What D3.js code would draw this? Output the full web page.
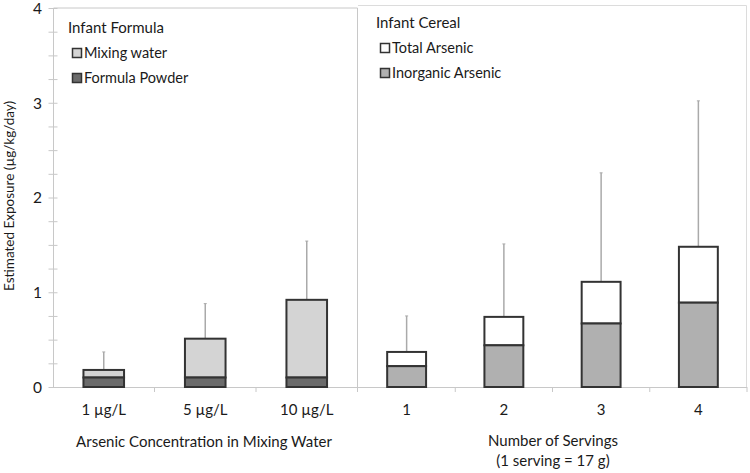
<!DOCTYPE html>
<html lang="en">
<head>
    <meta charset="UTF-8">
    <title>Arsenic exposure</title>
    <style>
        body { margin: 0; background: #fff; }
        svg text { font-family: Lato, "Open Sans", sans-serif; fill: #1a1a1a; }
    </style>
</head>
<body>
<svg id="chart"></svg>

<script src="https://cdn.jsdelivr.net/npm/d3@7"></script>
<script>
    // formula panel
    var formulaCats = ["1 µg/L", "5 µg/L", "10 µg/L"];
    var formulaPowder = [0.1, 0.1, 0.1];
    var mixingWater = [0.08, 0.41, 0.82];
    var formulaUpper = [0.37, 0.88, 1.54];

    // cereal panel
    var cerealCats = ["1", "2", "3", "4"];
    var inorganicAs = [0.22, 0.44, 0.67, 0.89];
    var totalAs = [0.37, 0.74, 1.11, 1.48];
    var cerealUpper = [0.75, 1.51, 2.26, 3.02];

    var yTicks = [0, 1, 2, 3, 4];

    (function () {
        var width = 750, height = 473;
        var svg = d3.select("#chart").attr("width", width).attr("height", height);

        var y = d3.scaleLinear().domain([0, 4]).range([387, 8]);
        var xL = d3.scaleBand().domain(formulaCats).range([53, 357.5]).paddingInner(0.6).paddingOuter(0.3);
        var xR = d3.scaleBand().domain(cerealCats).range([358, 747]).paddingInner(0.6).paddingOuter(0.3);

        var axisCol = "#c8c8c8";

        // panel borders
        svg.append("path")
            .attr("d", "M53.5," + y(4) + "H357.5V" + y(0))
            .attr("fill", "none").attr("stroke", axisCol);
        svg.append("path")
            .attr("d", "M358," + (y(4) - 2.5) + "H746.5V" + y(0))
            .attr("fill", "none").attr("stroke", "#dcdcdc");

        // y axis with minor ticks
        var yAxis = d3.axisLeft(y).tickValues(d3.range(0, 4.01, 0.25)).tickSize(5)
            .tickFormat(function (d) { return yTicks.indexOf(d) >= 0 ? d : ""; });
        var ga = svg.append("g").attr("transform", "translate(53.5,0)").call(yAxis);
        ga.select(".domain").attr("stroke", axisCol).attr("d", "M0," + y(4) + "V" + y(0));
        ga.selectAll(".tick line").attr("stroke", axisCol).attr("x1", 4);
        ga.selectAll(".tick text").attr("font-size", 15.5).attr("x", -16)
            .attr("dy", "0.35em")
            .style("text-anchor", "middle").attr("fill", "#1a1a1a");

        // x axes
        function xAxis(scale, x0, x1) {
            var g = svg.append("g");
            g.append("line").attr("x1", x0).attr("x2", x1).attr("y1", y(0) + 0.5).attr("y2", y(0) + 0.5)
                .attr("stroke", axisCol);
            var edges = scale.domain().map(function (d) { return scale(d) - scale.step() * scale.paddingInner() / 2; });
            edges.push(x1);
            g.selectAll("line.t").data(edges.slice(1)).enter().append("line")
                .attr("x1", function (d) { return d; }).attr("x2", function (d) { return d; })
                .attr("y1", y(0)).attr("y2", y(0) + 5).attr("stroke", axisCol);
            g.selectAll("text").data(scale.domain()).enter().append("text")
                .attr("x", function (d) { return scale(d) + scale.bandwidth() / 2; })
                .attr("y", 415).attr("text-anchor", "middle").attr("font-size", 15)
                .text(function (d) { return d; });
        }
        xAxis(xL, 53, 357.5);
        xAxis(xR, 358, 747);

        function bars(scale, cats, lower, upper, errTop, cLow, cUp) {
            var g = svg.append("g");
            cats.forEach(function (c, i) {
                var x0 = scale(c), bw = scale.bandwidth(), cx = x0 + bw / 2;
                var top = lower[i] + upper[i];
                g.append("line").attr("x1", cx).attr("x2", cx).attr("y1", y(top)).attr("y2", y(errTop[i]))
                    .attr("stroke", "#aaa").attr("stroke-width", 1.5);
                g.append("line").attr("x1", cx - 1.5).attr("x2", cx + 1.5).attr("y1", y(errTop[i])).attr("y2", y(errTop[i]))
                    .attr("stroke", "#aaa").attr("stroke-width", 1);
                g.append("rect").attr("x", x0).attr("width", bw)
                    .attr("y", y(top)).attr("height", y(lower[i]) - y(top))
                    .attr("fill", cUp).attr("stroke", "#333").attr("stroke-width", 2);
                g.append("rect").attr("x", x0).attr("width", bw)
                    .attr("y", y(lower[i])).attr("height", y(0) - y(lower[i]))
                    .attr("fill", cLow).attr("stroke", "#333").attr("stroke-width", 2);
            });
        }
        bars(xL, formulaCats, formulaPowder, mixingWater, formulaUpper, "#6b6b6b", "#d4d4d4");
        var cerealUpperPart = totalAs.map(function (t, i) { return t - inorganicAs[i]; });
        bars(xR, cerealCats, inorganicAs, cerealUpperPart, cerealUpper, "#b0b0b0", "#ffffff");

        // legends
        function legend(x, ty, title, items) {
            svg.append("text").attr("x", x).attr("y", ty).attr("font-size", 15).text(title);
            items.forEach(function (it, i) {
                var yy = ty + 25 + i * 25;
                svg.append("rect").attr("x", x + 4.5).attr("y", yy - 9.5).attr("width", 9).attr("height", 9)
                    .attr("fill", it.c).attr("stroke", "#333").attr("stroke-width", 1.5);
                svg.append("text").attr("x", x + 16).attr("y", yy).attr("font-size", 14.5).text(it.n);
            });
        }
        legend(68, 33, "Infant Formula", [{n: "Mixing water", c: "#d4d4d4"}, {n: "Formula Powder", c: "#6b6b6b"}]);
        legend(376, 28, "Infant Cereal", [{n: "Total Arsenic", c: "#ffffff"}, {n: "Inorganic Arsenic", c: "#b0b0b0"}]);

        // axis titles
        svg.append("text").attr("transform", "translate(14,196) rotate(-90)")
            .attr("text-anchor", "middle").attr("font-size", 13.5).text("Estimated Exposure (µg/kg/day)");
        svg.append("text").attr("x", 204).attr("y", 447).attr("text-anchor", "middle").attr("font-size", 15)
            .text("Arsenic Concentration in Mixing Water");
        svg.append("text").attr("x", 553).attr("y", 446).attr("text-anchor", "middle").attr("font-size", 15)
            .text("Number of Servings");
        svg.append("text").attr("x", 553).attr("y", 466).attr("text-anchor", "middle").attr("font-size", 15)
            .text("(1 serving = 17 g)");
    })();
</script>
</body>
</html>
